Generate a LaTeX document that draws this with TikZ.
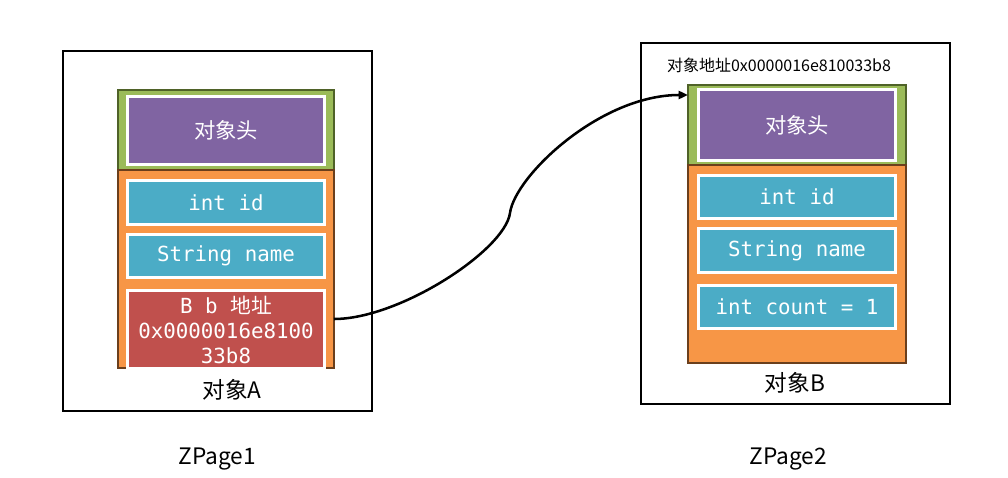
\documentclass[tikz,border=0pt]{standalone}
\usepackage{fontspec}
\setmainfont{Noto Sans CJK SC}
\newfontfamily\monofont{DejaVu Sans Mono}
\usepackage{tikz}
\usetikzlibrary{arrows.meta,shadows}

\definecolor{hdrgreen}{HTML}{9BBB59}
\definecolor{hdrdark}{HTML}{4F6228}
\definecolor{bodyorange}{HTML}{F79646}
\definecolor{bodydark}{HTML}{6B3F1C}
\definecolor{headpurple}{HTML}{8064A2}
\definecolor{fieldblue}{HTML}{4BACC6}
\definecolor{refred}{HTML}{C0504D}

\begin{document}
\begin{tikzpicture}[x=0.75pt,y=-0.75pt,>={Triangle[length=7pt,width=6pt]},
    every node/.style={inner sep=0pt,outer sep=0pt},
    pagebox/.style={draw,line width=1.5pt,minimum width=232pt,minimum height=270pt},
    hdr/.style={draw=hdrdark,fill=hdrgreen,line width=1.5pt,minimum width=162pt,minimum height=60pt},
    body/.style={draw=bodydark,fill=bodyorange,line width=1.5pt,minimum width=162pt,minimum height=148.5pt},
    cell/.style={draw=white,line width=2.25pt,text=white,minimum width=148pt,
        drop shadow={shadow xshift=0.8pt,shadow yshift=-0.8pt,fill=black,opacity=0.25},
        font=\monofont\fontsize{15.6}{18.75}\selectfont},
    field/.style={cell,fill=fieldblue,minimum height=32.5pt},
    headcell/.style={cell,fill=headpurple,font=\fontsize{16}{19}\selectfont},
    label/.style={font=\fontsize{17}{20}\selectfont}]
    \useasboundingbox (0,0) rectangle (1008,478);
    % ZPage1
    \node[pagebox] (pageA) at (217.5,231) {};
    \node[hdr] (hdrA) at (226,130) {};
    \node[body] (bodyA) at (226,269) {};
    \node[headcell,minimum height=51pt] (headA) at (226,130.5) {对象头};
    \node[field] (idA) at (226,202.5) {int id};
    \node[field] (nameA) at (226,256) {String name};
    \node[cell,fill=refred,minimum height=58.5pt,align=center] (refA) at (226,329.5)
        {B b {\rmfamily 地址}\\0x0000016e8100\\33b8};
    \node[label] (objA) at (232,390) {对象A};
    \node[label] (zpA) at (217,459) {ZPage1};
    % ZPage2
    \node[pagebox,minimum height=270.75pt] (pageB) at (795.5,223.5) {};
    \node[font=\fontsize{12}{14}\selectfont] (addrB) at (779,65) {对象地址0x0000016e810033b8};
    \node[hdr,minimum width=163.5pt] (hdrB) at (797,125) {};
    \node[body,minimum width=163.5pt] (bodyB) at (797,264) {};
    \node[headcell,minimum height=53.25pt] (headB) at (797,125) {对象头};
    \node[field] (idB) at (797,197) {int id};
    \node[field] (nameB) at (797,250.5) {String name};
    \node[field] (countB) at (797,307) {int count = 1};
    \node[label] (objB) at (795,383) {对象B};
    \node[label] (zpB) at (788,459) {ZPage2};
    % pointer from A to B
    \coordinate (ptrA) at (bodyA.east |- 0,319);
    \coordinate (ptrB) at (hdrB.west |- 0,95);
    \draw[->,line width=1.9pt] (ptrA) .. controls (400,319) and (505,250) .. (510,213)
        .. controls (515,176) and (600,95) .. (ptrB);
\end{tikzpicture}
\end{document}
